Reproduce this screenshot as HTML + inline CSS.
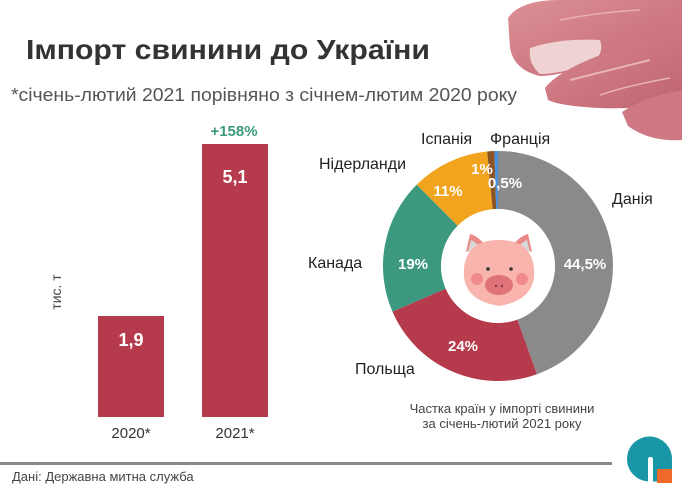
<!DOCTYPE html>
<html><head><meta charset="utf-8"><style>
html,body{margin:0;padding:0;background:#fff;}
svg{display:block;font-family:"Liberation Sans","DejaVu Sans",sans-serif;}
</style></head><body>
<svg width="682" height="491" viewBox="0 0 682 491" xmlns="http://www.w3.org/2000/svg">
<rect width="682" height="491" fill="#fff"/>
<defs>
<linearGradient id="m1" x1="0" y1="0" x2="1" y2="1"><stop offset="0" stop-color="#dc9096"/><stop offset="1" stop-color="#c46873"/></linearGradient>
<linearGradient id="m2" x1="0" y1="0" x2="1" y2="1"><stop offset="0" stop-color="#d98890"/><stop offset="1" stop-color="#bf6470"/></linearGradient>
</defs>
<!-- meat -->
<path d="M508 18 Q520 0 560 0 L682 0 L682 32 Q640 48 600 62 Q560 76 540 76 Q514 70 510 48 Z" fill="url(#m1)"/>
<path d="M530 48 Q560 38 600 40 Q605 55 590 64 Q560 74 540 74 Q528 64 530 48 Z" fill="#efd3d3"/>
<path d="M545 88 Q560 68 620 48 Q660 36 682 30 L682 98 Q650 110 600 108 Q560 106 548 100 Z" fill="url(#m2)"/>
<path d="M570 80 Q610 70 650 60" stroke="#e8b4b8" stroke-width="2" fill="none"/>
<path d="M600 95 Q630 85 670 78" stroke="#e8b4b8" stroke-width="1.5" fill="none"/>
<path d="M560 20 Q600 12 640 10" stroke="#e8b0b4" stroke-width="1.5" fill="none"/>
<path d="M622 112 Q645 96 682 90 L682 140 Q650 142 628 126 Z" fill="#cd7882"/>
<!-- title -->
<text x="26" y="59" font-size="28" font-weight="bold" fill="#333" textLength="404" lengthAdjust="spacingAndGlyphs">Імпорт свинини до України</text>
<text x="11" y="101" font-size="18" fill="#555" textLength="506" lengthAdjust="spacingAndGlyphs">*січень-лютий 2021 порівняно з січнем-лютим 2020 року</text>
<!-- bars -->
<rect x="98" y="316" width="66" height="101" fill="#b53b4c"/>
<rect x="202" y="144" width="66" height="273" fill="#b53b4c"/>
<text x="131" y="346" font-size="18" font-weight="bold" fill="#fff" text-anchor="middle">1,9</text>
<text x="235" y="183" font-size="18" font-weight="bold" fill="#fff" text-anchor="middle">5,1</text>
<text x="234" y="136" font-size="15" font-weight="bold" fill="#3a9a7a" text-anchor="middle">+158%</text>
<text x="131" y="438" font-size="15" fill="#333" text-anchor="middle">2020*</text>
<text x="235" y="438" font-size="15" fill="#333" text-anchor="middle">2021*</text>
<text transform="translate(61,292) rotate(-90)" font-size="14" fill="#444" text-anchor="middle">тис. т</text>
<!-- donut -->
<path d="M498 151 A115 115 0 0 1 536.95 374.2 L517.31 319.63 A57 57 0 0 0 498 209 Z" fill="#8a8a8a"/>
<path d="M536.95 374.2 A115 115 0 0 1 392.45 311.67 L445.69 288.63 A57 57 0 0 0 517.31 319.63 Z" fill="#b53b4c"/>
<path d="M392.45 311.67 A115 115 0 0 1 416.68 184.68 L457.70 225.70 A57 57 0 0 0 445.69 288.63 Z" fill="#3d9880"/>
<path d="M416.68 184.68 A115 115 0 0 1 487.18 151.51 L492.64 209.25 A57 57 0 0 0 457.70 225.70 Z" fill="#f2a41f"/>
<path d="M487.18 151.51 A115 115 0 0 1 494.39 151.06 L496.21 209.03 A57 57 0 0 0 492.64 209.25 Z" fill="#8a5424"/>
<path d="M494.39 151.06 A115 115 0 0 1 498 151 L498 209 A57 57 0 0 0 496.21 209.03 Z" fill="#4a8fdc"/>
<circle cx="498" cy="266" r="57" fill="#fff"/>
<!-- pig -->
<path d="M466 252 L470 234 Q478 236 486 246 Z" fill="#e98a86"/>
<path d="M468 252 L471 240 Q477 243 481 248 Z" fill="#d8d8d8"/>
<path d="M532 252 L528 234 Q520 236 512 246 Z" fill="#e98a86"/>
<path d="M530 252 L527 240 Q521 243 517 248 Z" fill="#d8d8d8"/>
<path d="M499 240 Q531 240 534 268 Q537 300 499 306 Q461 300 464 268 Q467 240 499 240 Z" fill="#f8b4ad"/>
<circle cx="477" cy="279" r="6" fill="#f08a8c"/>
<circle cx="522" cy="279" r="6" fill="#f08a8c"/>
<circle cx="488" cy="269" r="1.8" fill="#333"/>
<circle cx="511" cy="269" r="1.8" fill="#333"/>
<ellipse cx="499" cy="285" rx="14" ry="10" fill="#e0727a"/>
<circle cx="496" cy="286" r="1.2" fill="#8a3a40"/>
<circle cx="502" cy="286" r="1.2" fill="#8a3a40"/>
<!-- donut values -->
<g font-size="15" font-weight="bold" fill="#fff" text-anchor="middle">
<text x="585" y="269">44,5%</text>
<text x="463" y="351">24%</text>
<text x="413" y="269">19%</text>
<text x="448" y="196">11%</text>
<text x="482" y="174">1%</text>
<text x="505" y="188">0,5%</text>
</g>
<!-- donut labels -->
<g font-size="16" fill="#222">
<text x="421" y="144">Іспанія</text>
<text x="490" y="144">Франція</text>
<text x="319" y="169">Нідерланди</text>
<text x="612" y="204">Данія</text>
<text x="308" y="268">Канада</text>
<text x="355" y="374">Польща</text>
</g>
<text x="502" y="413" font-size="13" fill="#444" text-anchor="middle">Частка країн у імпорті свинини</text>
<text x="502" y="428" font-size="13" fill="#444" text-anchor="middle">за січень-лютий 2021 року</text>
<!-- footer -->
<rect x="0" y="462" width="612" height="3" fill="#888"/>
<text x="12" y="481" font-size="13" fill="#444">Дані: Державна митна служба</text>
<!-- logo -->
<path d="M649.5 481.5 A22.5 22.5 0 1 1 672 459 L672 469 L657 469 L657 481.5 Z" fill="#1a97a6"/>
<rect x="648" y="457" width="5" height="26" rx="2" fill="#fff"/>
<rect x="657" y="469" width="15" height="14" fill="#ee6a2b"/>
</svg>
</body></html>
